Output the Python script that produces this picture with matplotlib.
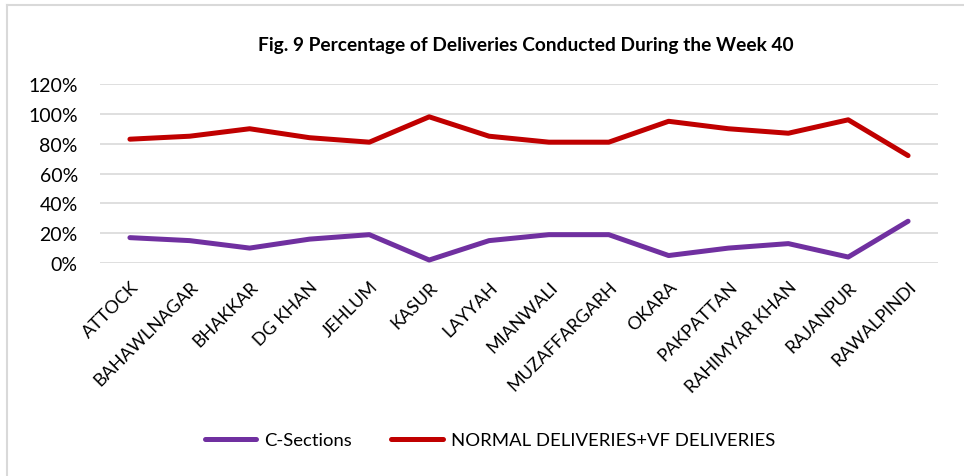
import matplotlib.pyplot as plt
from matplotlib.lines import Line2D
from matplotlib.ticker import PercentFormatter
from matplotlib.transforms import ScaledTranslation

plt.rcParams['font.family'] = ['Lato', 'DejaVu Sans']

districts = ['ATTOCK', 'BAHAWLNAGAR', 'BHAKKAR', 'DG KHAN', 'JEHLUM', 'KASUR',
             'LAYYAH', 'MIANWALI', 'MUZAFFARGARH', 'OKARA', 'PAKPATTAN',
             'RAHIMYAR KHAN', 'RAJANPUR', 'RAWALPINDI']
c_sections = [17, 15, 10, 16, 19, 2, 15, 19, 19, 5, 10, 13, 4, 28]
normal_vf = [83, 85, 90, 84, 81, 98, 85, 81, 81, 95, 90, 87, 96, 72]

W, H = 964, 477
fig = plt.figure(figsize=(W / 100, H / 100), dpi=100)
ax = fig.add_axes([100 / W, (H - 264) / H, 838 / W, (264 - 85) / H])

x = range(len(districts))
ax.plot(x, c_sections, color='#7030A0', lw=3.6, solid_capstyle='round',
        solid_joinstyle='round', label='C-Sections', clip_on=False, zorder=3)
ax.plot(x, normal_vf, color='#C00000', lw=3.6, solid_capstyle='round',
        solid_joinstyle='round', label='NORMAL DELIVERIES+VF DELIVERIES',
        clip_on=False, zorder=3)

ax.set_xlim(-0.5, len(districts) - 0.5)
ax.set_ylim(0, 120)
ax.set_yticks(range(0, 121, 20))
ax.yaxis.set_major_formatter(PercentFormatter(decimals=0))
ax.grid(axis='y', color='#D9D9D9', lw=1.2)
ax.set_axisbelow(True)
for s in ax.spines.values():
    s.set_visible(False)
ax.tick_params(length=0, labelsize=14, colors='#000000')
ax.tick_params(axis='y', pad=16)

ax.set_xticks(list(x))
ax.set_xticklabels(districts, rotation=45, ha='right', va='center',
                   rotation_mode='anchor', fontsize=13)
ax.tick_params(axis='x', pad=15)
shift = ScaledTranslation(6 / 100, 0, fig.dpi_scale_trans)
for lbl in ax.get_xticklabels():
    lbl.set_transform(lbl.get_transform() + shift)

fig.text(526 / W, 1 - 45 / H, 'Fig. 9 Percentage of Deliveries Conducted During the Week 40',
         ha='center', va='center', fontsize=13.8, fontweight='bold')

fig.legend(loc='center', bbox_to_anchor=(490 / W, 1 - 441 / H), ncol=2,
           frameon=False, fontsize=13.3, handlelength=2.8, handletextpad=0.45,
           columnspacing=2.1)

# chart border (left and top edges visible)
fig.add_artist(Line2D([7 / W, 7 / W], [0, 1 - 6 / H], color='#D9D9D9', lw=1.5))
fig.add_artist(Line2D([7 / W, 1], [1 - 6 / H, 1 - 6 / H], color='#D9D9D9', lw=1.5))

fig.savefig('out.png', dpi=100)
